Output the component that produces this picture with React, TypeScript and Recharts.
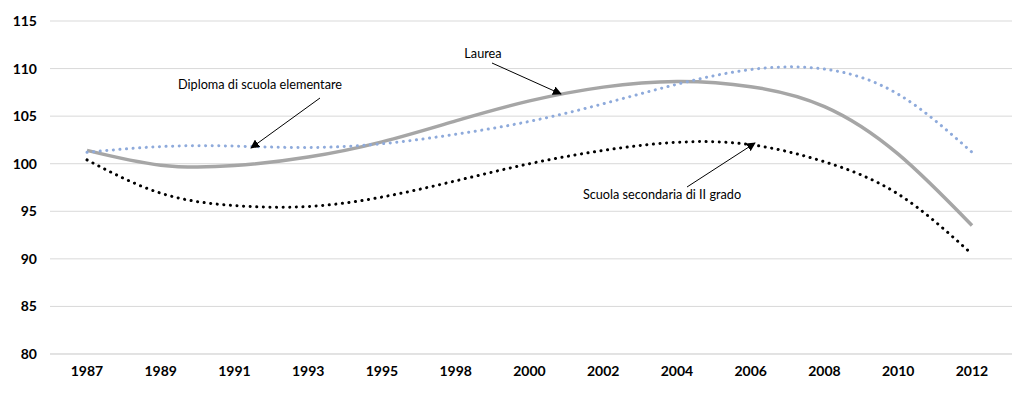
import { LineChart, Line, XAxis, YAxis, CartesianGrid } from 'recharts';

const years = ['1987', '1989', '1991', '1993', '1995', '1998', '2000', '2002', '2004', '2006', '2008', '2010', '2012'];
const elementare = [101.2, 101.8, 101.85, 101.7, 102.1, 103.1, 104.45, 106.3, 108.35, 109.9, 109.95, 107.3, 101.2];
const laurea = [101.4, 99.85, 99.8, 100.7, 102.3, 104.5, 106.6, 108.05, 108.65, 108.1, 106.0, 101.0, 93.5];
const secondaria = [100.4, 96.9, 95.6, 95.5, 96.5, 98.2, 100.0, 101.4, 102.25, 102.0, 100.2, 96.8, 90.5];
const yTicks = [80, 85, 90, 95, 100, 105, 110, 115];

const data = years.map((year, i) => ({
  year,
  elementare: elementare[i],
  laurea: laurea[i],
  secondaria: secondaria[i],
}));

const FONT = 'Lato, "Open Sans", sans-serif';

export default function App() {
  return (
    <div style={{ position: 'absolute', left: 0, top: 0, width: 1024, height: 397, background: '#fff', fontFamily: FONT }}>
      <LineChart width={1024} height={397} data={data} margin={{ top: 21, right: 12, left: 0, bottom: 0 }}>
        <CartesianGrid vertical={false} stroke="#d9d9d9" />
        <XAxis
          dataKey="year"
          axisLine={{ stroke: '#d9d9d9' }}
          tickLine={false}
          tickSize={0}
          tickMargin={12}
          height={43}
          interval={0}
          padding={{ left: 37, right: 40 }}
          tick={{ fill: '#000', fontSize: 14, fontWeight: 700, fontFamily: FONT }}
        />
        <YAxis
          domain={[80, 115]}
          ticks={yTicks}
          axisLine={false}
          tickLine={false}
          tickSize={0}
          tickMargin={13}
          width={50}
          tick={{ fill: '#000', fontSize: 14, fontWeight: 700, fontFamily: FONT }}
        />
        <Line
          type="natural"
          dataKey="laurea"
          stroke="#a6a6a6"
          strokeWidth={3.5}
          dot={false}
          isAnimationActive={false}
        />
        <Line
          type="natural"
          dataKey="elementare"
          stroke="#8eaadb"
          strokeWidth={3}
          strokeDasharray="0.1 6.5"
          strokeLinecap="round"
          dot={false}
          isAnimationActive={false}
        />
        <Line
          type="natural"
          dataKey="secondaria"
          stroke="#000"
          strokeWidth={3}
          strokeDasharray="0.1 6.5"
          strokeLinecap="round"
          dot={false}
          isAnimationActive={false}
        />
      </LineChart>
      <svg width={1024} height={397} style={{ position: 'absolute', left: 0, top: 0, pointerEvents: 'none' }}>
        <defs>
          <marker id="arrow" viewBox="0 0 10 10" refX="9" refY="5" markerWidth="9" markerHeight="9" orient="auto">
            <path d="M0,0 L10,5 L0,10 z" fill="#000" />
          </marker>
        </defs>
        <g fontFamily={FONT} fontSize={12.7} fill="#000">
          <text x={483} y={58} textAnchor="middle">Laurea</text>
          <text x={260} y={89} textAnchor="middle">Diploma di scuola elementare</text>
          <text x={662} y={199} textAnchor="middle">Scuola secondaria di II grado</text>
        </g>
        <line x1={492} y1={63} x2={561} y2={94} stroke="#000" strokeWidth={1} markerEnd="url(#arrow)" />
        <line x1={320} y1={98} x2={251} y2={148} stroke="#000" strokeWidth={1} markerEnd="url(#arrow)" />
        <line x1={687} y1={187} x2={755} y2={143} stroke="#000" strokeWidth={1} markerEnd="url(#arrow)" />
      </svg>
    </div>
  );
}
